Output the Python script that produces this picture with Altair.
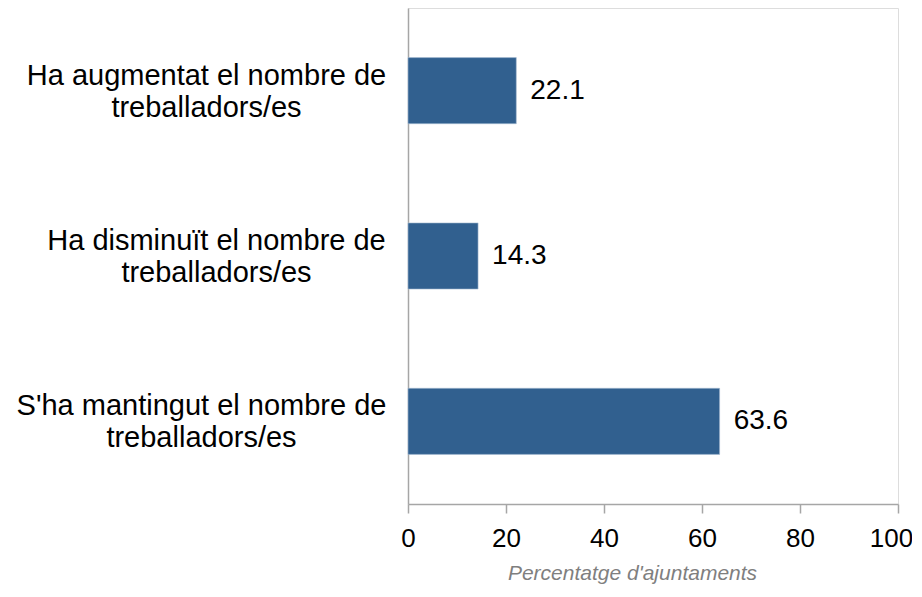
import altair as alt
import pandas as pd

categories = [
    "Ha augmentat el nombre de treballadors/es",
    "Ha disminuït el nombre de treballadors/es",
    "S'ha mantingut el nombre de treballadors/es",
]
values = [22.1, 14.3, 63.6]
x_ticks = [0, 20, 40, 60, 80, 100]
x_title = "Percentatge d'ajuntaments"

df = pd.DataFrame({"cat": categories, "val": values})
FONT = "Liberation Sans"

# right-align each two-line label block next to the axis
pad_expr = (
    f"datum.value == '{categories[1]}' ? 192 : "
    f"datum.value == \"{categories[2]}\" ? 207 : 202"
)

y_enc = alt.Y(
    "cat:N",
    sort=categories,
    title=None,
    scale=alt.Scale(paddingInner=0.6, paddingOuter=0.3),
    axis=alt.Axis(
        labelExpr="[replace(datum.label, ' treballadors/es', ''), 'treballadors/es']",
        labelAlign="center",
        labelBaseline="middle",
        labelPadding=alt.ExprRef(expr=pad_expr),
        labelOffset=-15,
        labelFont=FONT,
        labelFontSize=29,
        labelLineHeight=32,
        labelColor="#000000",
        labelLimit=0,
        ticks=False,
        domainColor="#a6a6a6",
        domainWidth=1.5,
    ),
)

x_enc = alt.X(
    "val:Q",
    scale=alt.Scale(domain=[0, 100], nice=False),
    axis=alt.Axis(
        values=x_ticks,
        title=x_title,
        titleFont=FONT,
        titleFontSize=21,
        titleFontStyle="italic",
        titleFontWeight="normal",
        titleColor="#7f7f7f",
        titlePadding=11,
        titleX=224,
        titleAnchor="start",
        titleAlign="center",
        labelFont=FONT,
        labelFontSize=26,
        labelColor="#000000",
        labelPadding=12,
        labelFlush=False,
        labelOffset=alt.condition("datum.value == 100", alt.value(-7), alt.value(0)),
        tickSize=9,
        tickColor="#a6a6a6",
        tickWidth=1.5,
        domainColor="#a6a6a6",
        domainWidth=1.5,
        grid=False,
    ),
)

bars = alt.Chart(df).mark_bar(color="#31608f", stroke="#a9bdd3", strokeWidth=0.6).encode(
    x=x_enc, y=y_enc
)

labels = alt.Chart(df).mark_text(
    align="left", baseline="middle", dx=14, font=FONT, fontSize=28, color="#000000"
).encode(
    x=alt.X("val:Q"),
    y=alt.Y("cat:N", sort=categories),
    text=alt.Text("val:Q", format=".1f"),
)

chart = (
    alt.layer(bars, labels)
    .properties(
        width=490,
        height=496,
        autosize=alt.AutoSizeParams(type="none"),
        padding={"left": 400, "top": 0, "right": 14, "bottom": 84},
    )
    .configure_view(stroke=None)
    .configure(background="white")
)

chart.save("out.html", embed_options={"renderer": "svg", "actions": False})
